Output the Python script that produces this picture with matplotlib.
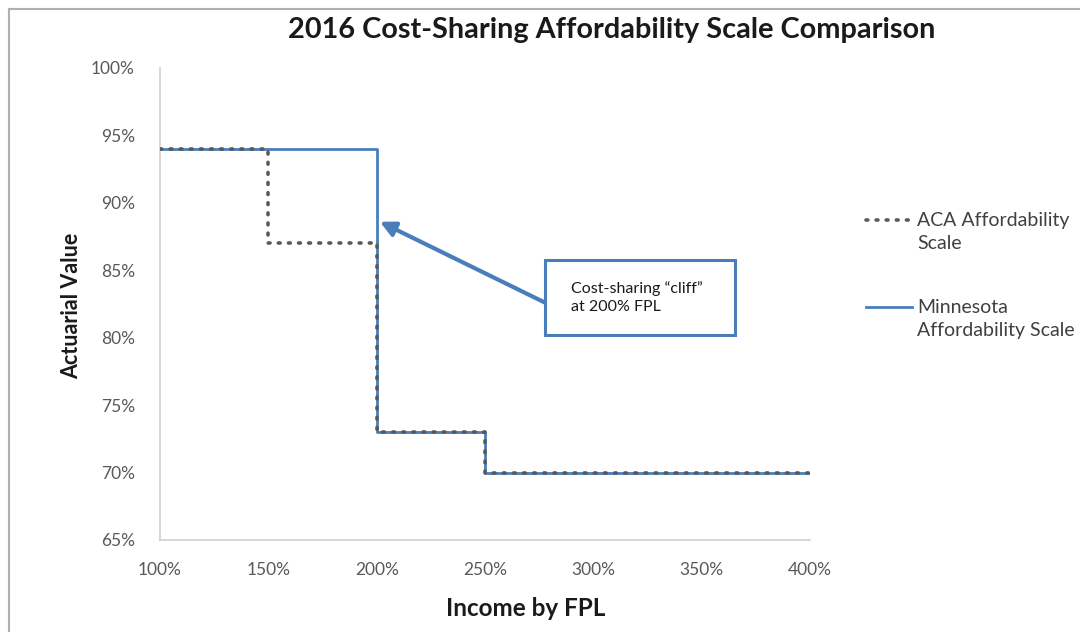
import matplotlib
matplotlib.use("Agg")
import matplotlib.pyplot as plt
from matplotlib.patches import Rectangle
from matplotlib.lines import Line2D

plt.rcParams['font.family'] = ['Lato', 'DejaVu Sans']

# Data
income_fpl = [100, 150, 200, 250, 400]
aca_av = [94, 87, 73, 70, 70]
mn_av = [94, 94, 73, 70, 70]
x_ticks = [100, 150, 200, 250, 300, 350, 400]
y_ticks = [65, 70, 75, 80, 85, 90, 95, 100]
legend_labels = ['ACA Affordability\nScale', 'Minnesota\nAffordability Scale']

blue = '#4a7ebb'
gray = '#595959'
dotted = (0, (0.5, 2.3))

fig = plt.figure(figsize=(10.8, 6.32), dpi=100)
ax = fig.add_axes([160/1080, 1-540/632, 650/1080, 472/632])

ax.plot(income_fpl, mn_av, drawstyle='steps-post', color=blue, lw=2.0, zorder=2)
ax.plot(income_fpl, aca_av, drawstyle='steps-post', color=gray, lw=2.6,
        linestyle=dotted, dash_capstyle='round', zorder=3)

ax.set_xlim(100, 400)
ax.set_ylim(65, 100)
ax.set_xticks(x_ticks)
ax.set_xticklabels([f'{v}%' for v in x_ticks])
ax.set_yticks(y_ticks)
ax.set_yticklabels([f'{v}%' for v in y_ticks])
ax.tick_params(length=0, labelsize=12.5, labelcolor=gray, pad=18)
ax.tick_params(axis='x', pad=16)
for s in ['top', 'right']:
    ax.spines[s].set_visible(False)
for s in ['left', 'bottom']:
    ax.spines[s].set_color('#d0d0d0')
    ax.spines[s].set_linewidth(1.2)

fig.text(612/1080, 1-30/632, '2016 Cost-Sharing Affordability Scale Comparison',
         ha='center', va='center', fontsize=20.8, fontweight='bold', color='#1a1a1a')
fig.text(72/1080, 1-306/632, 'Actuarial Value', rotation=90, ha='center', va='center',
         fontsize=15.5, fontweight='bold', color='#1a1a1a')
fig.text(526/1080, 1-609/632, 'Income by FPL', ha='center', va='center',
         fontsize=17.5, fontweight='bold', color='#1a1a1a')

# Annotation box and arrow
box = Rectangle((277.7, 80.2), 365.4-277.7, 85.76-80.2, fill=True, facecolor='white',
                edgecolor=blue, lw=2.2, clip_on=False, zorder=5)
ax.add_patch(box)
ax.text(289.5, 82.95, 'Cost-sharing \u201ccliff\u201d\nat 200% FPL', ha='left', va='center',
        fontsize=11.5, color='#1a1a1a', linespacing=1.35, zorder=6)
ax.annotate('', xy=(201.5, 88.6), xytext=(277.7, 82.6),
            arrowprops=dict(arrowstyle='-|>,head_length=0.9,head_width=0.45',
                            color=blue, lw=3, shrinkA=0, shrinkB=0), zorder=6)

# Legend (manual, handle aligned with first text line)
leg_styles = [dict(color=gray, lw=2.6, linestyle=dotted, dash_capstyle='round'),
              dict(color=blue, lw=2.0)]
leg_y = [220, 307]
for lab, st, yy in zip(legend_labels, leg_styles, leg_y):
    fig.add_artist(Line2D([866/1080, 912/1080], [1-yy/632, 1-yy/632],
                          transform=fig.transFigure, **st))
    fig.text(917/1080, 1-(yy-8)/632, lab, ha='left', va='top', fontsize=14,
             color='#404040', linespacing=1.4)

# Figure border (top and left)
fig.add_artist(Line2D([9/1080, 9/1080], [0, 1-9/632], transform=fig.transFigure,
                      color='#b0b0b0', lw=1.5))
fig.add_artist(Line2D([9/1080, 1], [1-9/632, 1-9/632], transform=fig.transFigure,
                      color='#b0b0b0', lw=1.5))

fig.savefig('out.png', dpi=100)
